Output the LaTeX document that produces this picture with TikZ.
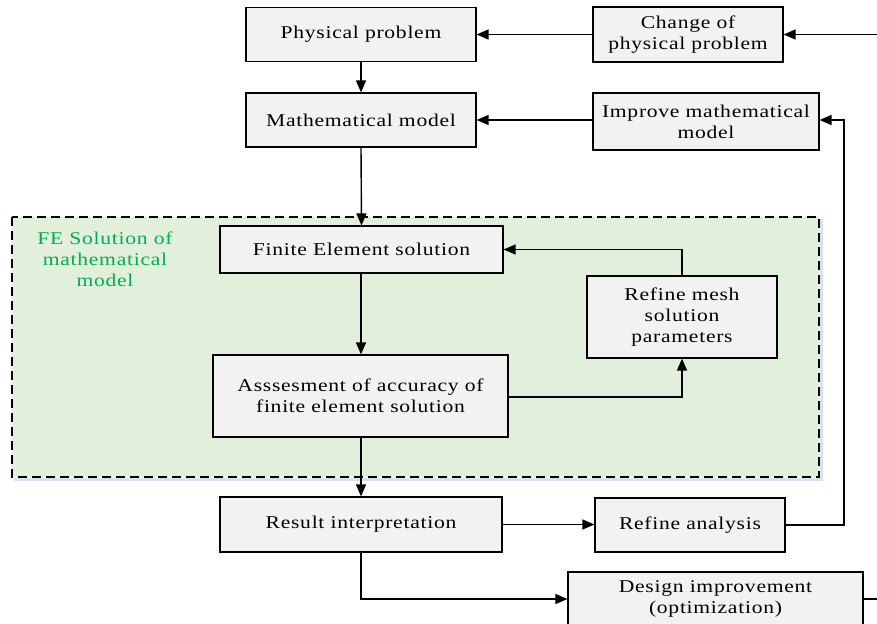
\documentclass[tikz,border=0pt]{standalone}
\usepackage{fontspec}
\setmainfont{Liberation Serif}[FakeStretch=1.2,LetterSpace=4]
\usetikzlibrary{arrows.meta,calc}
\definecolor{boxfill}{RGB}{242,242,242}
\definecolor{regionfill}{RGB}{226,239,218}
\definecolor{labelgreen}{RGB}{0,176,80}
\definecolor{shadowblue}{RGB}{214,226,242}
\tikzset{
  box/.style={draw=black, line width=1.2pt, fill=boxfill, rectangle, align=center,
    font=\fontsize{18}{21}\selectfont, inner sep=0pt},
  conn/.style={line width=1.4pt, -{Triangle[length=12pt,width=10pt]}},
  plainconn/.style={line width=1.4pt},
}
\begin{document}
\begin{tikzpicture}[x=1pt,y=-1pt]
\useasboundingbox (0,0) rectangle (877,623);
% region
\draw[shadowblue, line width=3pt] (14,479.5) -- (821.5,479.5) -- (821.5,219);
\draw[fill=regionfill, draw=black, line width=1.3pt, dash pattern=on 9pt off 5pt] (12,217) rectangle (819,477);
\node[text=labelgreen, align=center, font=\fontsize{18}{21}\selectfont] (felabel) at (105,259) {FE Solution of\\mathematical\\model};
% boxes
\node[box, minimum width=230, minimum height=54] (phys) at (361,34.5) {Physical problem};
\node[box, minimum width=190, minimum height=55] (change) at (688,34.5) {Change of\\physical problem};
\node[box, minimum width=230, minimum height=54] (math) at (361,120) {Mathematical model};
\node[box, minimum width=226, minimum height=57] (improve) at (706,121.5) {Improve mathematical\\model};
\node[box, minimum width=283, minimum height=47] (fe) at (361.5,249.5) {Finite Element solution};
\node[box, minimum width=190, minimum height=82] (mesh) at (682,317) {Refine mesh\\solution\\parameters};
\node[box, minimum width=295, minimum height=82] (assess) at (360.5,396) {Asssesment of accuracy of\\finite element solution};
\node[box, minimum width=282, minimum height=55] (result) at (361,524.5) {Result interpretation};
\node[box, minimum width=190, minimum height=54] (ranal) at (690,525) {Refine analysis};
\node[box, minimum width=295, minimum height=54] (design) at (715.5,599) {Design improvement\\(optimization)};
% free ends
\coordinate (topin) at (877,34.5);
\coordinate (botout) at (877,599);
% connectors
\draw[conn] (phys.south) -- (math.north);
\draw[conn] (math.south) -- (fe.north);
\draw[conn] (fe.south -| result.north) -- (assess.north -| result.north);
\draw[conn] (assess.south -| result.north) -- (result.north);
\draw[conn] (change.west) -- (phys.east |- change.west);
\draw[conn] (topin) -- (change.east);
\draw[conn] (improve.west |- math.east) -- (math.east);
\draw[conn] ($(assess.east)+(0,1)$) -| (mesh.south);
\draw[conn] (mesh.north) |- (fe.east);
\draw[conn] (result.east) -- (ranal.west |- result.east);
\draw[conn] (ranal.east) -- (844,525) |- ($(improve.east)+(0,-1.5)$);
\draw[conn] (result.south) |- (design.west);
\draw[plainconn] (design.east) -- (botout);
\end{tikzpicture}
\end{document}
